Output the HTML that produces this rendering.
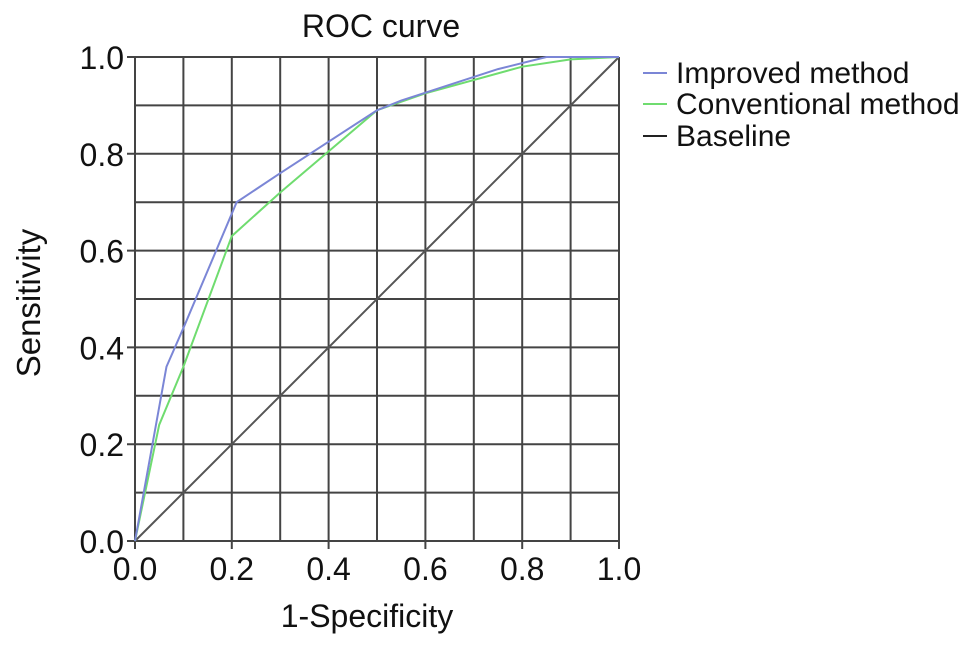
<!DOCTYPE html>
<html><head><meta charset="utf-8"><style>
body{margin:0;background:#fff;}
svg text{font-family:"Liberation Sans",Arial,sans-serif;fill:#111;}
</style></head><body>
<svg id="chart" width="969" height="646">
<text x="381" y="37" font-size="32" text-anchor="middle">ROC curve</text>
<g id="grid"></g><g id="ticks"></g><g id="series"></g>
<text x="367" y="627" font-size="32" text-anchor="middle">1-Specificity</text>
<text transform="translate(40,303) rotate(-90)" font-size="33" text-anchor="middle">Sensitivity</text>
<g>
<g><line x1="643" y1="73" x2="667" y2="73" stroke="#7b86d6" stroke-width="2"/><text x="676" y="83" font-size="30">Improved method</text></g>
<g><line x1="643" y1="104" x2="667" y2="104" stroke="#6fdc6f" stroke-width="2"/><text x="676" y="114" font-size="30">Conventional method</text></g>
<g><line x1="643" y1="136" x2="667" y2="136" stroke="#222" stroke-width="2"/><text x="676" y="146" font-size="30">Baseline</text></g>
</g>
</svg>
<script>
const ticks=[0,0.2,0.4,0.6,0.8,1.0];
const tickLabels=["0.0","0.2","0.4","0.6","0.8","1.0"];
const improvedX=[0,0.065,0.1,0.21,0.3,0.5,0.55,0.75,0.85,1];
const improvedY=[0,0.36,0.44,0.70,0.76,0.89,0.91,0.975,1.0,1];
const convX=[0,0.05,0.1,0.2,0.3,0.5,0.6,0.8,0.9,1];
const convY=[0,0.24,0.36,0.63,0.72,0.89,0.925,0.98,0.995,1];
const baseX=[0,1];const baseY=[0,1];
const X0=135,X1=619,Y0=541,Y1=57;
const sx=v=>X0+v*(X1-X0), sy=v=>Y0-v*(Y0-Y1);
const NS="http://www.w3.org/2000/svg";
const grid=document.getElementById('grid'),tk=document.getElementById('ticks'),se=document.getElementById('series');
for(let i=0;i<=10;i++){
 const v=i/10;
 let l=document.createElementNS(NS,'line');
 l.setAttribute('x1',sx(v));l.setAttribute('x2',sx(v));l.setAttribute('y1',Y1);l.setAttribute('y2',Y0+(i%2==0?8:0));
 l.setAttribute('stroke','#444');l.setAttribute('stroke-width','2');
 
 
 grid.appendChild(l);
 l=document.createElementNS(NS,'line');
 l.setAttribute('y1',sy(v));l.setAttribute('y2',sy(v));l.setAttribute('x1',X0-(i%2==0?8:0));l.setAttribute('x2',X1);
 l.setAttribute('stroke','#444');l.setAttribute('stroke-width','2');
 
 
 grid.appendChild(l);
}
ticks.forEach((v,i)=>{
 let t=document.createElementNS(NS,'text');
 t.setAttribute('x',sx(v));t.setAttribute('y',580);t.setAttribute('font-size','32');t.setAttribute('text-anchor','middle');
 t.textContent=tickLabels[i];
 
 
 tk.appendChild(t);
 t=document.createElementNS(NS,'text');
 t.setAttribute('x',124);t.setAttribute('y',sy(v)+12);t.setAttribute('font-size','32');t.setAttribute('text-anchor','end');
 t.textContent=tickLabels[i];
 
 
 tk.appendChild(t);
});
function line(xs,ys,c,name){
 const p=document.createElementNS(NS,'polyline');
 p.setAttribute('points',xs.map((x,i)=>sx(x)+','+sy(ys[i])).join(' '));
 p.setAttribute('fill','none');p.setAttribute('stroke',c);p.setAttribute('stroke-width','2');
 
 
 se.appendChild(p);
}
line(baseX,baseY,'#555','baseline-line');
line(convX,convY,'#6fdc6f','conventional-method-line');
line(improvedX,improvedY,'#7b86d6','improved-method-line');
</script>
</body></html>
